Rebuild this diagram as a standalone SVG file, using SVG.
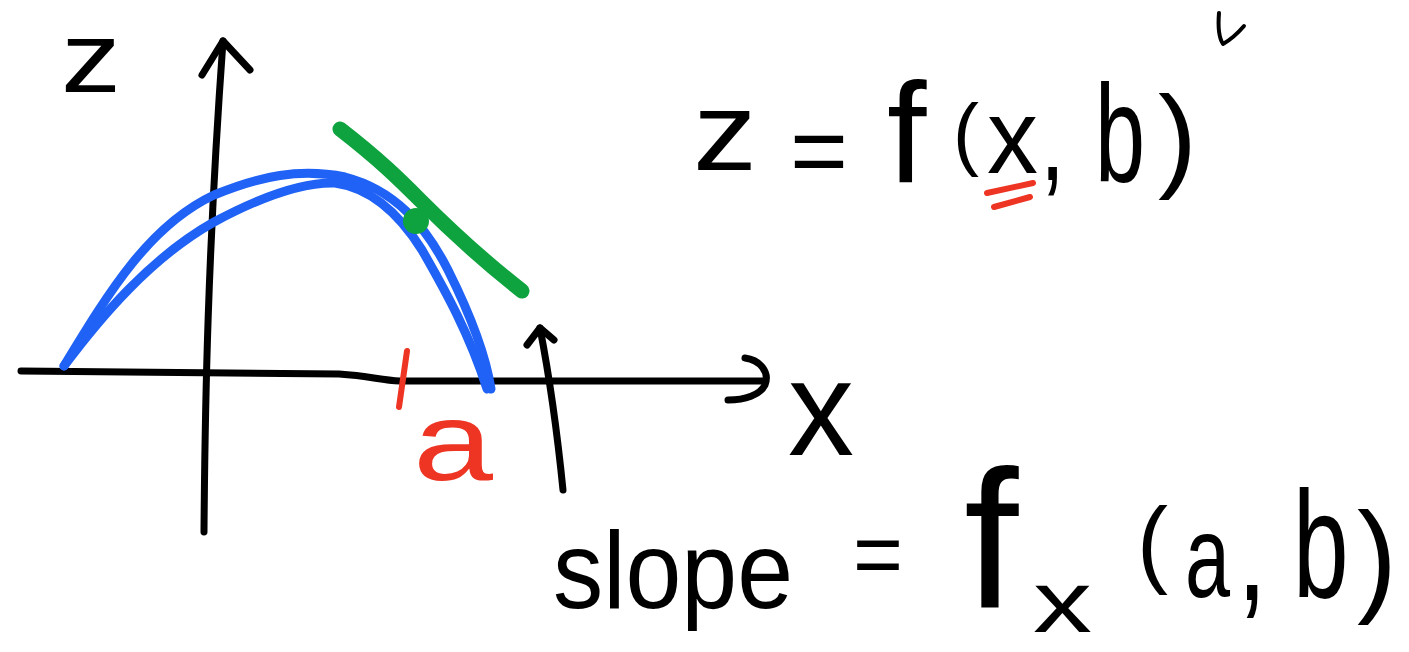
<svg xmlns="http://www.w3.org/2000/svg" width="1409" height="652" viewBox="0 0 1409 652">
<style>
.ink{fill:none;stroke:#000;stroke-width:7;stroke-linecap:round;stroke-linejoin:round}
.blue{fill:none;stroke:#1f62f5;stroke-width:9;stroke-linecap:round;stroke-linejoin:round}
.green{fill:none;stroke:#0ea33e;stroke-width:15;stroke-linecap:round;stroke-linejoin:round}
.red{fill:none;stroke:#ee3524;stroke-width:6;stroke-linecap:round}
.t{font-family:"Liberation Sans",Arial,sans-serif;fill:#000}
.tr{font-family:"Liberation Sans",Arial,sans-serif;fill:#ee3524}
</style>
<rect width="1409" height="652" fill="#fff"/>
<g id="axes">
<path class="ink" d="M204,532 C205,400 208,250 223,41"/>
<path class="ink" d="M202,75 L223,41 L250,70"/>
<path class="ink" d="M21,371 C100,372 200,373 339,374 C370,376 380,380 400,381 L765,381"/>
<path class="ink" d="M745,358 C760,360 770,372 765,385 C760,395 745,400 728,400"/>
</g>
<g id="curve">
<path class="blue" d="M64,366 C110,290 150,225 214,195 C260,176 300,168 345,177 C395,190 425,225 448,270 C468,310 485,350 491,389"/>
<path class="blue" d="M64,366 C100,318 150,258 214,222 C255,200 300,182 335,183 C372,188 400,215 422,250 C445,290 470,335 487,389"/>
</g>
<g id="tangent">
<path class="green" d="M340,129 C380,160 400,180 420,200 C450,230 485,262 522,291"/>
<circle cx="416" cy="221" r="13" fill="#0ea33e"/>
</g>
<g id="point-a">
<path class="red" d="M407,351 L399,407"/>
<text class="tr" x="413" y="480" font-size="112" textLength="80" lengthAdjust="spacingAndGlyphs">a</text>
</g>
<g id="slope-arrow">
<path class="ink" d="M563,490 C558,440 550,380 540,328"/>
<path class="ink" d="M527,345 L540,328 L554,340"/>
</g>
<g id="z-label">
<text class="t" x="61" y="92" font-size="100" textLength="60" lengthAdjust="spacingAndGlyphs">z</text>
</g>
<g id="x-label">
<text class="t" x="788" y="455" font-size="135" textLength="66" lengthAdjust="spacingAndGlyphs">x</text>
</g>
<g id="formula-top">
<text class="t"><tspan x="693" y="170" font-size="112" textLength="64" lengthAdjust="spacingAndGlyphs">z</tspan><tspan x="790" y="185" font-size="100" textLength="58" lengthAdjust="spacingAndGlyphs">=</tspan><tspan x="887" y="183" font-size="142">f</tspan><tspan x="953" y="160" font-size="79" textLength="26" lengthAdjust="spacingAndGlyphs">(</tspan><tspan x="987" y="173" font-size="106" textLength="51" lengthAdjust="spacingAndGlyphs">x</tspan><tspan x="1040" y="180" font-size="120" textLength="25" lengthAdjust="spacingAndGlyphs">,</tspan><tspan x="1158" y="176" font-size="115" textLength="39" lengthAdjust="spacingAndGlyphs">)</tspan></text>
<text class="t" transform="translate(1095,182) scale(1,1.55)" font-size="90">b</text>
<path class="red" d="M987,193 L1033,183 M994,207 L1030,197"/>
<path class="ink" style="stroke-width:4" d="M1219,13 C1218,25 1219,38 1223,44 C1230,40 1238,33 1244,26"/>
</g>
<g id="formula-bottom">
<text class="t"><tspan x="553" y="608" font-size="110" textLength="240" lengthAdjust="spacingAndGlyphs">slope</tspan><tspan x="853" y="585" font-size="90" textLength="50" lengthAdjust="spacingAndGlyphs">=</tspan><tspan x="964" y="608" font-size="196">f</tspan><tspan x="1033" y="632" font-size="87" textLength="59" lengthAdjust="spacingAndGlyphs">x</tspan><tspan x="1137" y="575" font-size="96" textLength="31" lengthAdjust="spacingAndGlyphs">(</tspan><tspan x="1237" y="600" font-size="140" textLength="30" lengthAdjust="spacingAndGlyphs">,</tspan><tspan x="1357" y="599" font-size="125" textLength="40" lengthAdjust="spacingAndGlyphs">)</tspan></text>
<text class="t" transform="translate(1185,597) scale(1,1.44)" font-size="81">a</text>
<text class="t" transform="translate(1293,597) scale(1,1.53)" font-size="100">b</text>
</g>
</svg>
